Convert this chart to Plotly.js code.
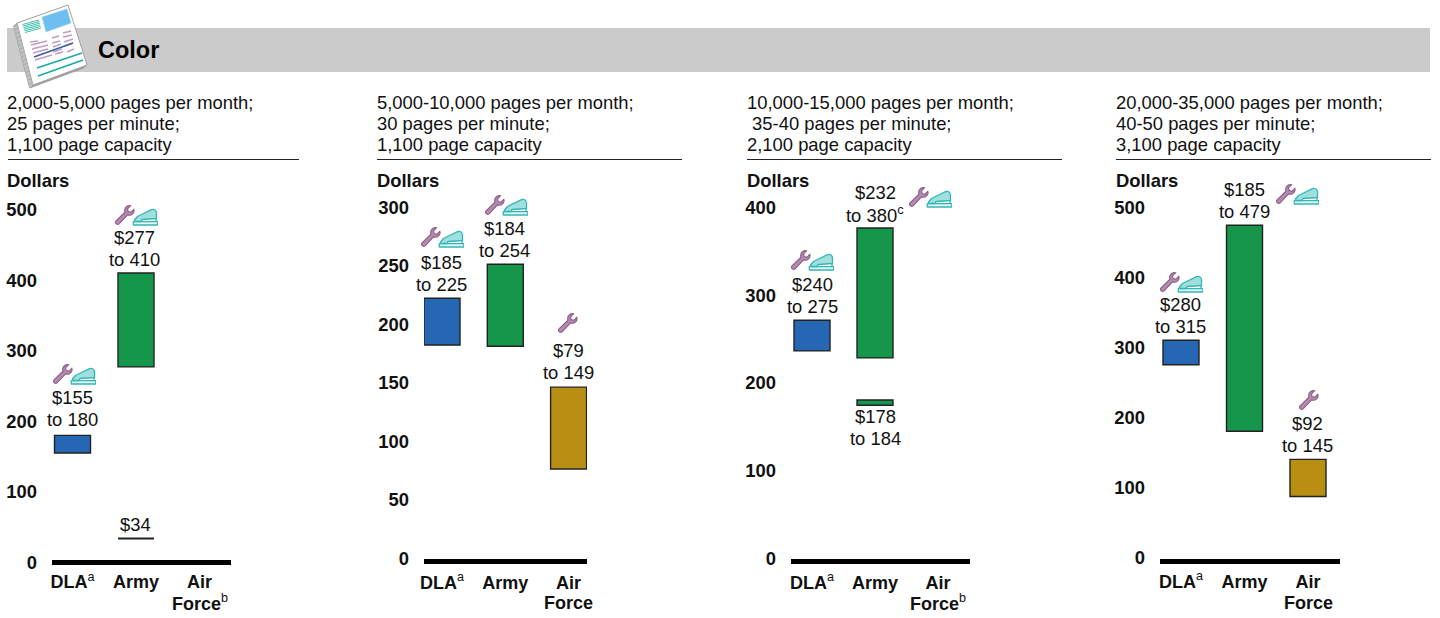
<!DOCTYPE html>
<html><head><meta charset="utf-8">
<script src="https://cdn.plot.ly/plotly-3.0.1.min.js"></script>
<style>html,body{margin:0;padding:0;background:#fff}#c{width:1440px;height:618px}</style>
</head><body><div id="c"></div>
<script>
// ---- data ----
const categories = ["DLA", "Army", "Air Force"];
const p1Low  = [155, 277, null], p1High = [180, 410, null], p1ExtraLow = [null, 34, null], p1ExtraHigh = [null, 34, null];
const p2Low  = [185, 184, 79],   p2High = [225, 254, 149];
const p3Low  = [240, 232, null], p3High = [275, 380, null], p3ExtraLow = [null, 178, null], p3ExtraHigh = [null, 184, null];
const p4Low  = [280, 185, 92],   p4High = [315, 479, 145];
const p1Ticks = [0, 100, 200, 300, 400, 500];
const p2Ticks = [0, 50, 100, 150, 200, 250, 300];
const p3Ticks = [0, 100, 200, 300, 400];
const p4Ticks = [0, 100, 200, 300, 400, 500];
const p1Head = ["2,000-5,000 pages per month;", "25 pages per minute;", "1,100 page capacity"];
const p2Head = ["5,000-10,000 pages per month;", "30 pages per minute;", "1,100 page capacity"];
const p3Head = ["10,000-15,000 pages per month;", " 35-40 pages per minute;", "2,100 page capacity"];
const p4Head = ["20,000-35,000 pages per month;", "40-50 pages per minute;", "3,100 page capacity"];
const sup = s => `<sup><span style="font-weight:400">${s}</span></sup>`;
const tickA = ["DLA" + sup("a"), "Army", "Air"];
const title = "Color";
const colors = ["#2567b3", "#15964b", "#b88f12"];

const W = 1440, H = 618, FONT = '"Liberation Sans", Arial, sans-serif', INK = "#111";

const panels = [
  {low:p1Low, high:p1High, exLow:p1ExtraLow, exHigh:p1ExtraHigh, exLine:2, ticks:p1Ticks, head:p1Head, headX:6,  ruleX:[8,299],
   zero:562.4, top:209.5, max:500, c0:72.5, step:63.5, left:52, right:231, shift:-3.500, xoff:1, lx:-0.5, force:"Force"+sup("b"), fy:602,
   labels:[[0,"high",["$155","to 180"],2,0.500],[1,"high",["$277","to 410"],0,-1],[1,"exAbove",["$34"],0,0]],
   icons:[[52,364,2],[114,205,2]]},
  {low:p2Low, high:p2High, ticks:p2Ticks, head:p2Head, headX:376, ruleX:[377,682],
   zero:561.5, top:210.5, max:300, c0:442, step:63.3, left:424, right:587, shift:-3, xoff:2, lx:-0.5, force:"Force", fy:603,
   labels:[[0,"high",["$185","to 225"],0,0],[1,"high",["$184","to 254"],0,0],[2,"high",["$79","to 149"],1,0]],
   icons:[[420,227,2],[484,195,2],[557,313,1]]},
  {low:p3Low, high:p3High, exLow:p3ExtraLow, exHigh:p3ExtraHigh, exLine:1.400, ticks:p3Ticks, head:p3Head, headX:746, ruleX:[747,1062],
   zero:561.5, top:210.5, max:400, c0:812, step:63, left:791, right:970, shift:-3, xoff:2, lx:0, force:"Force"+sup("b"), fy:602,
   labels:[[0,"high",["$240","to 275"],0,0],[1,"high",["$232","to 380<sup>c</sup>"],0,0],[1,"exBelow",["$178","to 184"],0,0]],
   icons:[[790,250,2],[908,187,2]]},
  {low:p4Low, high:p4High, ticks:p4Ticks, head:p4Head, headX:1115, ruleX:[1116,1431],
   zero:561, top:210.5, max:500, c0:1181, step:63.5, left:1160, right:1340, shift:-3, xoff:2, lx:-0.5, force:"Force", fy:603,
   labels:[[0,"high",["$280","to 315"],0,0],[1,"high",["$185","to 479"],0,0],[2,"high",["$92","to 145"],0,0]],
   icons:[[1159,272,2],[1275,184,2],[1298,390,1]]}
];

// ---- icons ----
const wrench = `<path d="M2.200 18.600c-1-1-.9-2 .1-3L11 7.200c-.7-2.400-.1-4.300 1.500-5.500 1.200-.9 2.700-1.200 4-.8l-3 3 .6 2.700 2.700.7 3-3c.5 1.700 0 3.400-1.200 4.600-1.400 1.300-3.200 1.700-5.100 1L5.300 18.600c-1 1-2.100 1-3.100 0z" fill="#b58bb0" stroke="#8d5f8a" stroke-width="1.200"/>`;
const stapler = `<g fill="#9fe0de" stroke="#35b6b6" stroke-width="1.300" stroke-linejoin="round"><rect x="0.800" y="16.200" width="24.500" height="3.300" fill="#dff6f5"/><path d="M2 16V14.500L5 11 19 4.200Q23 3 24 7L24 13 9.500 14 8.500 16Z"/><path d="M23.500 13v3.200" fill="none"/></g>`;
const svgUri = s => "data:image/svg+xml;charset=utf-8," + encodeURIComponent(s);
const iconBoth = svgUri(`<svg xmlns="http://www.w3.org/2000/svg" width="44" height="21" viewBox="0 0 44 21">${wrench}<g transform="translate(18.500 0.500)">${stapler}</g></svg>`);
const iconWrench = svgUri(`<svg xmlns="http://www.w3.org/2000/svg" width="21" height="21" viewBox="0 0 21 21">${wrench}</svg>`);

const ln = (a,c,w) => `<line x1="${a[0]}" y1="${a[1]}" x2="${a[2]}" y2="${a[3]}" stroke="${c}" stroke-width="${w}"/>`;
let np = "";
[[3.500,3],[2.600,2.300],[1.700,1.500],[0.800,0.700]].forEach(o=>{np+=`<polygon transform="translate(${-o[0]} ${o[1]})" points="17,23 68,5 87,65 33,85" fill="#fff" stroke="#8a8a8a" stroke-width="0.700"/>`;});
np += `<polygon points="17,23 68,5 87,65 33,85" fill="#fff" stroke="#8f8f8f" stroke-width="0.800"/>`;
np += `<polygon points="42,17 67,9 71,23 46,32" fill="#6ebfef" stroke="#9ad3f2" stroke-width="0.600"/>`;
for(let k=0;k<6;k++){np+=ln([22.500+k*0.5,24.500+k*1.600,39+k*0.4,20+k*1.600],"#3fc0ae",1);}
[[30,42,38,41],[31,45,47,41],[32,49,48,45],[33,53,48,49],[35,60,52,55],
 [52,38,59,36],[52,43,60,41],[53,47,61,44],[53,52,62,49],[55,54,63,52],
 [63,33,71,31],[63,37,72,35],[64,42,73,39],[65,46,73,43],[67,52,74,49]].forEach(a=>{np+=ln(a,"#c09cc4",1.700);});
np+=ln([34,57,73,43],"#34609f",1.500);
np+=ln([37,68,82,53],"#19a9a6",1.500);
np+=ln([38,76,83,60],"#19a9a6",1.500);
const newspaper = svgUri(`<svg xmlns="http://www.w3.org/2000/svg" width="100" height="90" viewBox="0 0 100 90">${np}</svg>`);

// ---- build ----
const data = [], annotations = [], shapes = [], images = [];
const layout = {width:W, height:H, margin:{l:0,r:0,t:0,b:0,pad:0}, paper_bgcolor:"#fff", plot_bgcolor:"rgba(0,0,0,0)",
  showlegend:false, barmode:"overlay", font:{family:FONT,color:INK,size:18.400}, annotations, shapes, images};
const px = x => x/W, py = y => 1-y/H;
const text = (x,y,t,o={}) => annotations.push(Object.assign({xref:"paper",yref:"paper",x:px(x),y:py(y),text:t,showarrow:false,xanchor:"left",yanchor:"middle",
    font:{family:FONT,size:18.400,color:INK},borderpad:0},o));

shapes.push({type:"rect",xref:"paper",yref:"paper",x0:px(7),x1:px(1430),y0:py(28),y1:py(72),fillcolor:"#cbcbcb",line:{width:0},layer:"below"});
images.push({source:newspaper,xref:"paper",yref:"paper",x:0,y:1,sizex:100/W,sizey:90/H,xanchor:"left",yanchor:"top",sizing:"stretch",layer:"above"});
text(96.500,50,"<b>"+title+"</b>",{font:{family:FONT,size:23.500,color:"#000"}});

panels.forEach((p,i)=>{
  const n = i+1, xn = n===1?"x":"x"+n, yn = n===1?"y":"y"+n;
  const scale = (p.zero-p.top)/p.max;
  const pad = 6/scale;
  const bottom = p.zero+6;
  const xa = {domain:[px(p.left),px(p.right)], type:"category", categoryorder:"array", categoryarray:categories,
    range:[(p.left-p.c0)/p.step,(p.right-p.c0)/p.step], anchor:yn, showgrid:false, zeroline:false, showline:false, ticks:"", fixedrange:true,
    tickmode:"array", tickvals:categories, ticktext:tickA, ticklabelstandoff:p.xoff,
    tickfont:{family:FONT,size:18,color:"#111",weight:700}, automargin:false, tickangle:0};
  const ya = {domain:[py(bottom),py(p.top)], range:[-pad,p.max], anchor:xn, showgrid:false, showline:false, ticks:"", fixedrange:true,
    zeroline:true, zerolinecolor:"#000", zerolinewidth:5, tickmode:"array", tickvals:p.ticks, ticktext:p.ticks.map(String),
    ticklabelstandoff:14, ticklabelshift:p.shift, tickfont:{family:FONT,size:18.400,color:"#111",weight:700}, automargin:false};
  layout[n===1?"xaxis":"xaxis"+n] = xa;
  layout[n===1?"yaxis":"yaxis"+n] = ya;

  const bar = (lo,hi,name,lw) => ({type:"bar",x:categories,y:hi.map((h,k)=>h==null?null:h-lo[k]),base:lo,width:36/p.step,xaxis:xn,yaxis:yn,name,
    marker:{color:colors,line:{color:"#222",width:lw}},hoverinfo:"skip",cliponaxis:false});
  data.push(bar(p.low,p.high,"range",1.400));
  if(p.exLow) data.push(bar(p.exLow,p.exHigh,"extra",p.exLine));

  p.labels.forEach(([k,kind,lines,dy,dx])=>{
    const v = kind==="high"?p.high[k]:kind==="exAbove"?p.exHigh[k]:p.exLow[k];
    lines.forEach((t,j)=>{
      const off = kind==="exBelow" ? -11-22*j : (lines.length-1-j)*22+14;
      annotations.push({xref:xn,yref:yn,x:categories[k],y:v,xshift:p.lx+dx,yshift:off+dy,text:t,showarrow:false,xanchor:"center",yanchor:"middle",font:{family:FONT,size:18.400,color:INK}});
    });
  });
  p.head.forEach((t,j)=>text(p.headX,103+j*20.900,t.replace(/^ /,"\u00a0")));
  shapes.push({type:"line",xref:"paper",yref:"paper",x0:px(p.ruleX[0]),x1:px(p.ruleX[1]),y0:py(159.500),y1:py(159.500),line:{color:"#222",width:1}});
  text(p.headX,180,"<b>Dollars</b>",{font:{family:FONT,size:18.400,color:"#111"}});
  annotations.push({xref:xn,yref:"paper",x:categories[2],y:py(p.fy),text:p.force,showarrow:false,xanchor:"center",yanchor:"middle",font:{family:FONT,size:18,color:"#111",weight:700}});
  p.icons.forEach(([x,y,kind])=>images.push({source:kind===2?iconBoth:iconWrench,xref:"paper",yref:"paper",x:px(x),y:py(y),sizex:(kind===2?44:21)/W,sizey:21/H,xanchor:"left",yanchor:"top",sizing:"stretch",layer:"above"}));
});
Plotly.newPlot("c",data,layout,{displayModeBar:false,responsive:false,staticPlot:true});
</script>
</body></html>
